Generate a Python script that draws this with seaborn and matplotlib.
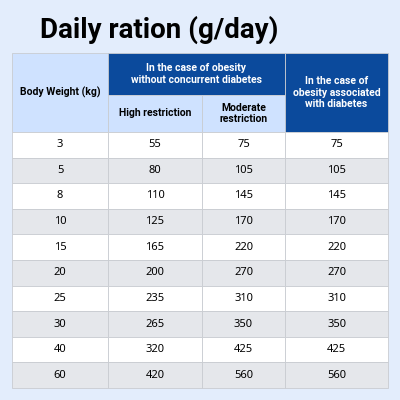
import matplotlib.pyplot as plt
import seaborn as sns
from matplotlib.patches import Rectangle

weights = [3, 5, 8, 10, 15, 20, 25, 30, 40, 60]
high_restriction = [55, 80, 110, 125, 165, 200, 235, 265, 320, 420]
moderate_restriction = [75, 105, 145, 170, 220, 270, 310, 350, 425, 560]
with_diabetes = [75, 105, 145, 170, 220, 270, 310, 350, 425, 560]

sns.set_theme(style="white")
plt.rcParams['font.family'] = ['Noto Sans', 'DejaVu Sans']
BOLD_FONT = ['Roboto', 'Liberation Sans', 'DejaVu Sans']

BG = "#e3edfc"
LIGHT = "#cfe2ff"
DARK = "#0b4a9c"
GRID = "#c9ccd1"

fig = plt.figure(figsize=(4, 4), dpi=100, facecolor=BG)
ax = fig.add_axes([0, 0, 1, 1])
ax.set_xlim(0, 400)
ax.set_ylim(400, 0)
ax.axis("off")

fig.text(0.1, 0.925, "Daily ration (g/day)", fontsize=20, fontweight="bold",
         family=BOLD_FONT, color="black", va="center")

cols = [12, 108, 202, 285, 388]


def cell(x0, y0, x1, y1, fc, text, color="black", bold=False, size=7.5):
    ax.add_patch(Rectangle((x0, y0), x1 - x0, y1 - y0, facecolor=fc, edgecolor=GRID, lw=0.6))
    kw = dict(fontweight="bold", family=BOLD_FONT) if bold else {}
    ax.text((x0 + x1) / 2, (y0 + y1) / 2, text, ha="center", va="center", color=color,
            fontsize=size, linespacing=1.2, **kw)


cell(cols[0], 53, cols[1], 132, LIGHT, "Body Weight (kg)", bold=True)
cell(cols[1], 53, cols[3], 95, DARK, "In the case of obesity\nwithout concurrent diabetes", color="white", bold=True)
cell(cols[1], 95, cols[2], 132, LIGHT, "High restriction", bold=True)
cell(cols[2], 95, cols[3], 132, LIGHT, "Moderate\nrestriction", bold=True)
cell(cols[3], 53, cols[4], 132, DARK, "In the case of\nobesity associated\nwith diabetes", color="white", bold=True)

row_h = (388 - 132) / len(weights)
for i in range(len(weights)):
    y0 = 132 + i * row_h
    fc = "white" if i % 2 == 0 else "#e5e7eb"
    vals = [weights[i], high_restriction[i], moderate_restriction[i], with_diabetes[i]]
    for j, v in enumerate(vals):
        cell(cols[j], y0, cols[j + 1], y0 + row_h, fc, str(v), size=8)

fig.savefig("out.png", dpi=100, facecolor=BG)
